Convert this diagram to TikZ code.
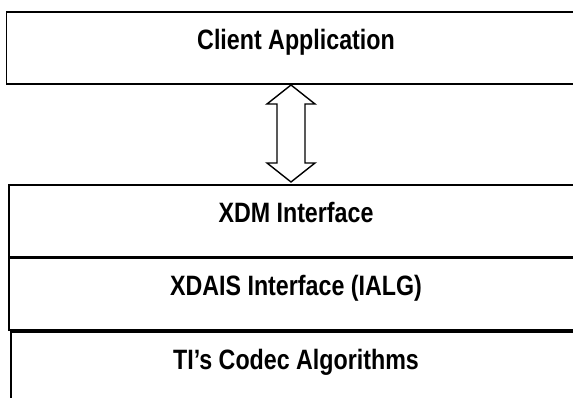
\documentclass[tikz,border=0pt]{standalone}
\usepackage{fontspec}
\setmainfont{Liberation Sans}[FakeStretch=0.83]
\usepackage{tikz}
\usetikzlibrary{positioning,calc}

\tikzset{
  layer/.style={draw, line width=1.8pt, outer sep=0pt, inner sep=0pt,
    minimum height=72pt, minimum width=574pt,
    font=\fontsize{28}{33}\selectfont\bfseries,
    text height=20pt, text depth=16pt},
  link/.style={draw, line width=1.4pt, line join=miter}
}

\begin{document}
\begin{tikzpicture}[x=1pt, y=1pt]
      \useasboundingbox (0,0) rectangle (573,398);

      \node[layer, minimum width=579pt] (client) at (296,350) {Client Application};
      \node[layer, below=101pt of client] (xdm) {XDM Interface};
      \node[layer, below=1pt of xdm] (xdais) {XDAIS Interface (IALG)};
      \node[layer, minimum width=570pt, below=2pt of xdais] (codec) {TI’s Codec Algorithms};

      % hollow two-way arrow
      \coordinate (up) at ($(client.south)+(-5,-1)$);
      \coordinate (dn) at ($(xdm.north)+(-5,3)$);
      \path[link] (up) -- ++(-24,-19) -- ++(10,0) -- ($(dn)+(-14,19)$) -- ++(-10,0)
        -- (dn) -- ++(24,19) -- ++(-10,0) -- ($(up)+(14,-19)$) -- ++(10,0) -- cycle;

    \end{tikzpicture}
\end{document}
